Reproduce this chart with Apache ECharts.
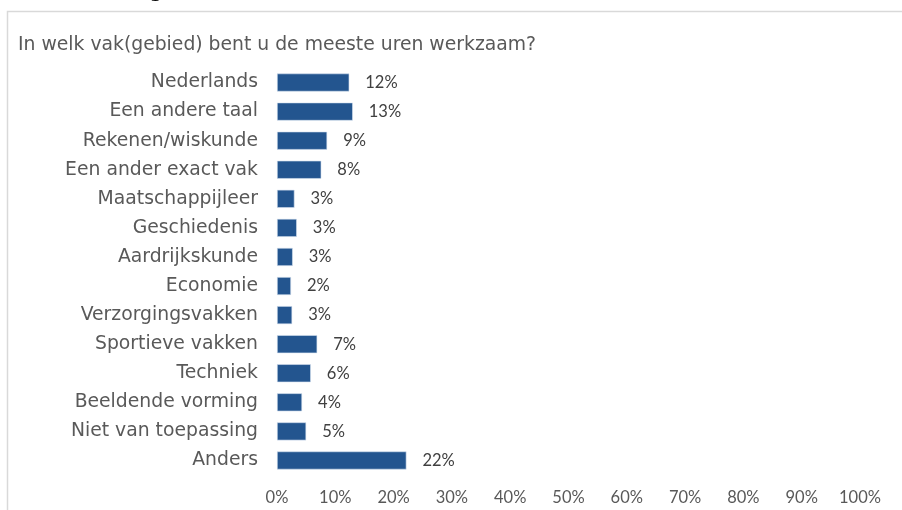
<!DOCTYPE html>
<html>
<head>
<meta charset="utf-8">
<script src="https://cdn.jsdelivr.net/npm/echarts@6/dist/echarts.min.js"></script>
<style>
  html, body { margin: 0; padding: 0; background: #ffffff; }
  #chart { width: 902px; height: 510px; }
</style>
</head>
<body>
<div id="chart"></div>
<script>
// Survey question and answer categories (top to bottom)
const questionTitle = 'In welk vak(gebied) bent u de meeste uren werkzaam?';
const figureCaption = '(Figuur 12)';
const categories = [
  'Nederlands',
  'Een andere taal',
  'Rekenen/wiskunde',
  'Een ander exact vak',
  'Maatschappijleer',
  'Geschiedenis',
  'Aardrijkskunde',
  'Economie',
  'Verzorgingsvakken',
  'Sportieve vakken',
  'Techniek',
  'Beeldende vorming',
  'Niet van toepassing',
  'Anders'
];
// Share of respondents per category, in percent
const shares = [12.4, 13.0, 8.6, 7.6, 3.0, 3.4, 2.7, 2.4, 2.6, 6.9, 5.8, 4.3, 5.0, 22.2];
// Value-axis ticks
const axisMin = 0;
const axisMax = 100;
const axisStep = 10;

const chart = echarts.init(document.getElementById('chart'), null, { renderer: 'canvas' });

const labelFont = '"DejaVu Sans", Verdana, sans-serif';
const numberFont = 'Lato, "Liberation Sans", sans-serif';

chart.setOption({
  animation: false,
  backgroundColor: '#ffffff',
  graphic: [
    // caption of the figure above the frame (mostly outside the view)
    {
      type: 'text', left: 123, top: -16.5,
      style: { text: figureCaption, font: 'bold 18px ' + labelFont, fill: '#000000' }
    },
    // frame around the chart area
    {
      type: 'polyline',
      shape: { points: [[7.5, 520], [7.5, 11.5], [905, 11.5]] },
      style: { stroke: '#d9d9d9', lineWidth: 1.5, fill: null }
    },
    {
      type: 'text', left: 18, top: 36,
      style: { text: questionTitle, font: '18.8px ' + labelFont, fill: '#595959' }
    }
  ],
  grid: { left: 277, right: 42, top: 68, bottom: 35, containLabel: false },
  xAxis: {
    type: 'value',
    min: axisMin,
    max: axisMax,
    interval: axisStep,
    axisLine: { show: false },
    axisTick: { show: false },
    splitLine: { show: false },
    axisLabel: {
      margin: 14,
      formatter: v => v + '%',
      color: '#595959',
      fontFamily: numberFont,
      fontSize: 16.5
    }
  },
  yAxis: {
    type: 'category',
    data: categories,
    inverse: true,
    axisLine: { show: false },
    axisTick: { show: false },
    axisLabel: {
      margin: 19,
      color: '#595959',
      fontFamily: labelFont,
      fontSize: 18.8
    }
  },
  series: [{
    type: 'bar',
    data: shares,
    barCategoryGap: '38%',
    itemStyle: { color: '#23558f', borderColor: '#d6e2f0', borderWidth: 0.6 },
    label: {
      show: true,
      position: 'right',
      distance: 16,
      formatter: p => Math.round(p.value) + '%',
      color: '#404040',
      fontFamily: numberFont,
      fontSize: 16.5
    }
  }]
});
</script>
</body>
</html>
